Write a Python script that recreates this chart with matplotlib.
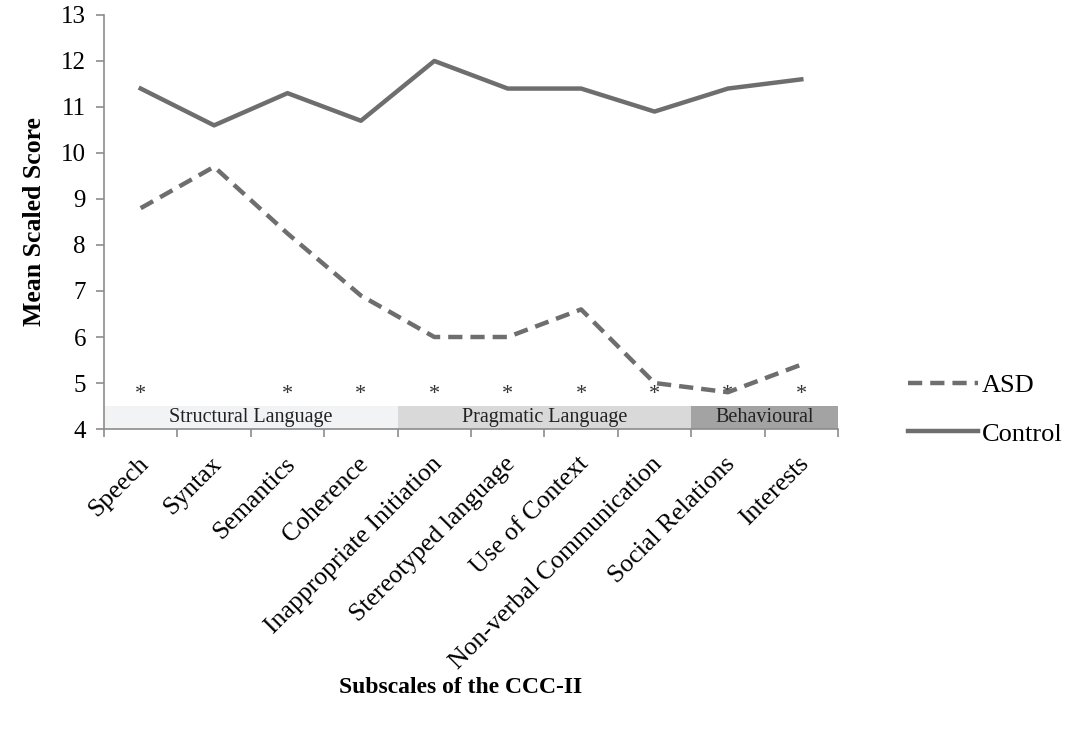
import numpy as np
import matplotlib.pyplot as plt
from matplotlib.lines import Line2D

plt.rcParams['font.family'] = ['Liberation Serif', 'DejaVu Serif']

subscales = ['Speech', 'Syntax', 'Semantics', 'Coherence', 'Inappropriate Initiation',
             'Stereotyped language', 'Use of Context', 'Non-verbal Communication',
             'Social Relations', 'Interests']
asd = [8.8, 9.7, 8.25, 6.9, 6.0, 6.0, 6.6, 5.0, 4.8, 5.4]
control = [11.4, 10.6, 11.3, 10.7, 12.0, 11.4, 11.4, 10.9, 11.4, 11.6]
significant = [True, False, True, True, True, True, True, True, True, True]

groups = ['Structural Language', 'Pragmatic Language', 'Behavioural']
group_start = [0, 4, 8]
group_end = [4, 8, 10]
group_colors = ['#f2f3f5', '#d9d9d9', '#a3a3a3']

line_col = '#6e6e6e'
axis_col = '#8c8c8c'
dash = (0, (3.2, 1.8))

fig = plt.figure(figsize=(10.7, 7.29), dpi=100)
ax = fig.add_axes([0.0972, 0.4115, 0.686, 0.568])

x = np.arange(len(subscales)) + 0.5

# subscale group bands
for name, s, e, c in zip(groups, group_start, group_end, group_colors):
    ax.add_patch(plt.Rectangle((s, 4), e - s, 0.5, facecolor=c, edgecolor='none', zorder=1))
    ax.text((s + e) / 2, 4.25, name, ha='center', va='center', fontsize=14.5, color='#222222', zorder=2)

# significance stars
for xi, sig in zip(x, significant):
    if sig:
        ax.text(xi, 4.75, '*', ha='center', va='center', fontsize=16, color='#333333', zorder=2)

ax.plot(x, asd, color=line_col, lw=3.2, ls=dash, zorder=3)
ax.plot(x, control, color=line_col, lw=3.2, zorder=3)

ax.set_xlim(0, 10)
ax.set_ylim(4, 13)
ax.set_yticks(range(4, 14))
ax.tick_params(axis='y', labelsize=18, color=axis_col, direction='out', length=6, width=1.2, pad=7)

ax.set_xticks(np.arange(0, 11))
ax.set_xticklabels([])
ax.set_xticks(x - 0.05, minor=True)
ax.set_xticklabels(subscales, minor=True, rotation=45, ha='right', va='top',
                   rotation_mode='anchor', fontsize=18.5)
ax.tick_params(axis='x', which='major', color=axis_col, direction='out', length=6, width=1.2)
ax.tick_params(axis='x', which='minor', length=0, pad=17)

for sp in ['top', 'right']:
    ax.spines[sp].set_visible(False)
for sp in ['left', 'bottom']:
    ax.spines[sp].set_color(axis_col)
    ax.spines[sp].set_linewidth(1.2)

ax.set_ylabel('Mean Scaled Score', fontsize=18.5, fontweight='bold', labelpad=11)
fig.text(0.43, 0.057, 'Subscales of the CCC-II', ha='center', va='center',
         fontsize=17, fontweight='bold')

handles = [Line2D([], [], color=line_col, lw=3.2, ls=dash),
           Line2D([], [], color=line_col, lw=3.2)]
fig.legend(handles, ['ASD', 'Control'], loc='upper left', bbox_to_anchor=(0.826, 0.52),
           frameon=False, fontsize=19, handlelength=2.65, handletextpad=0.15, labelspacing=0.95)

fig.savefig('out.png', dpi=100)
